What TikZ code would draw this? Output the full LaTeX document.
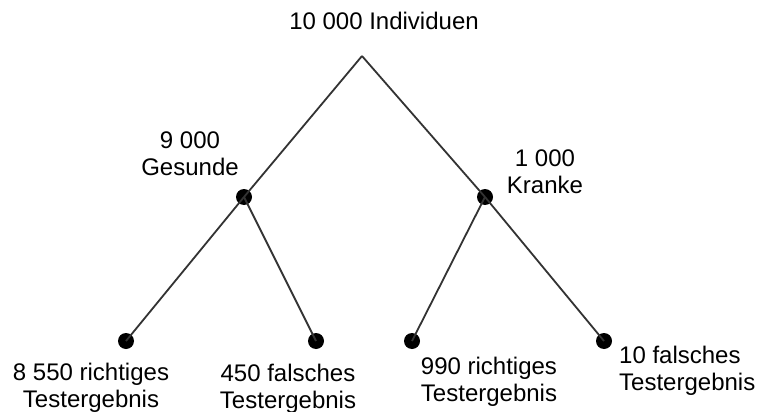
\documentclass[tikz,border=0pt]{standalone}
\usepackage{fontspec}
\setmainfont{Liberation Sans}
\begin{document}
\begin{tikzpicture}[x=1pt,y=-1pt,
  branch/.style={draw=black!80,line width=1.8pt},
  dot/.style={circle,fill=black,minimum size=16pt,inner sep=0pt},
  lbl/.style={inner sep=0pt,anchor=north,align=center,font=\fontsize{24}{27}\selectfont},
  lbll/.style={lbl,anchor=north west,align=left}]
\useasboundingbox[fill=white] (0,0) rectangle (758,412);

% tree points
\coordinate (root) at (362,56);
\node[dot] (healthy) at (244,197) {};
\node[dot] (sick) at (485,197) {};
\node[dot] (hr) at (126,341) {};
\node[dot] (hf) at (316,341) {};
\node[dot] (sr) at (412,341) {};
\node[dot] (sf) at (604,341) {};

% branches
\draw[branch] (root) -- (healthy.center);
\draw[branch] (root) -- (sick.center);
\draw[branch] (healthy.center) -- (hr.center);
\draw[branch] (healthy.center) -- (hf.center);
\draw[branch] (sick.center) -- (sr.center);
\draw[branch] (sick.center) -- (sf.center);

% labels
\node[lbl] (ltop) at (384,11.7) {10 000 Individuen};
\node[lbl] (lhealthy) at (190,131.7) {9 000\\Gesunde};
\node[lbl] (lsick) at (545,149.7) {1 000\\Kranke};
\node[lbl] (lhr) at (91,362.7) {8 550 richtiges\\Testergebnis};
\node[lbl] (lhf) at (288,363.7) {450 falsches\\Testergebnis};
\node[lbl] (lsr) at (489,356.7) {990 richtiges\\Testergebnis};
\node[lbll] (lsf) at (619,345.7) {10 falsches\\Testergebnis};
\end{tikzpicture}
\end{document}
